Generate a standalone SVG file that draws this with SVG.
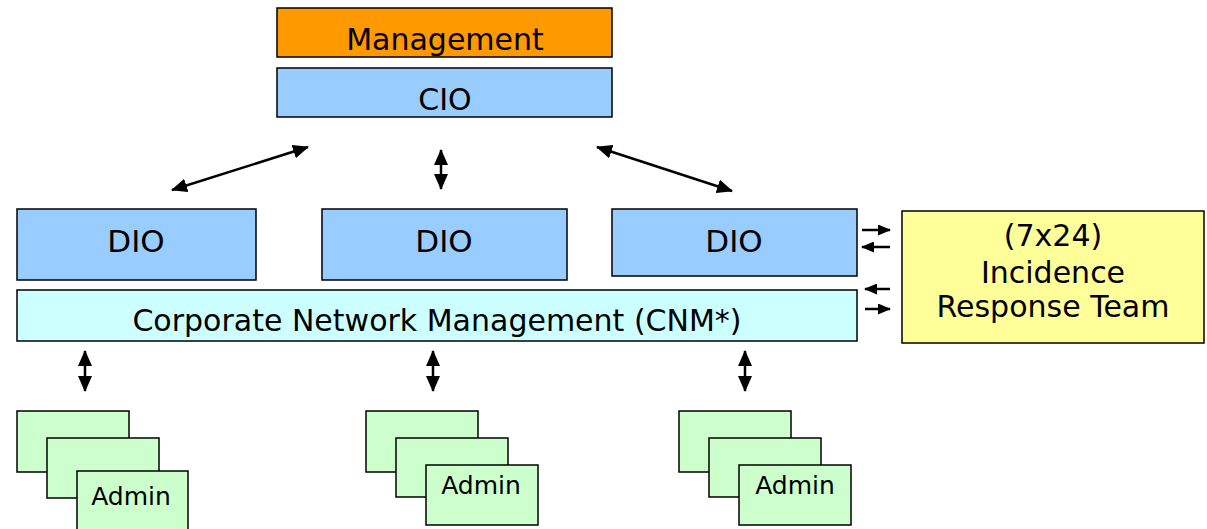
<svg xmlns="http://www.w3.org/2000/svg" width="1207" height="529" viewBox="0 0 1207 529">
  <style>
    .box { stroke: #000; stroke-width: 1.5; }
    .mgmt { fill: #FF9900; }
    .blue { fill: #99CCFF; }
    .cnm { fill: #CCFFFF; }
    .irt { fill: #FFFF99; }
    .admin { fill: #CCFFCC; }
    text { font-family: "DejaVu Sans", "Liberation Sans", sans-serif; fill: #000; text-anchor: middle; }
    .big { font-size: 30px; }
    .dio { font-size: 31px; }
    .mid { font-size: 30px; }
    .small { font-size: 25px; }
    .conn { stroke: #000; stroke-width: 2.5; fill: none; }
  </style>
  <defs>
    <marker id="head" viewBox="0 0 16 14" refX="15" refY="7" markerWidth="16" markerHeight="14" markerUnits="userSpaceOnUse" orient="auto-start-reverse">
      <path d="M0,0 L16,7 L0,14 Z" fill="#000"/>
    </marker>
    <marker id="headS" viewBox="0 0 13 11" refX="12" refY="5.5" markerWidth="13" markerHeight="11" markerUnits="userSpaceOnUse" orient="auto-start-reverse">
      <path d="M0,0 L13,5.5 L0,11 Z" fill="#000"/>
    </marker>
  </defs>

  <g id="management">
    <rect class="box mgmt" x="277" y="8" width="335" height="49"/>
    <text class="big" x="445" y="50">Management</text>
  </g>
  <g id="cio">
    <rect class="box blue" x="277" y="68" width="335" height="49"/>
    <text class="big" x="445" y="110">CIO</text>
  </g>

  <g id="dio-1">
    <rect class="box blue" x="17" y="209" width="239" height="71"/>
    <text class="dio" x="136" y="252">DIO</text>
  </g>
  <g id="dio-2">
    <rect class="box blue" x="322" y="209" width="245" height="71"/>
    <text class="dio" x="444" y="252">DIO</text>
  </g>
  <g id="dio-3">
    <rect class="box blue" x="612" y="209" width="245" height="67"/>
    <text class="dio" x="734" y="252">DIO</text>
  </g>

  <g id="cnm">
    <rect class="box cnm" x="17" y="290" width="840" height="51"/>
    <text class="mid" x="437" y="331">Corporate Network Management (CNM*)</text>
  </g>

  <g id="irt">
    <rect class="box irt" x="902" y="211" width="302" height="132"/>
    <text class="big" x="1053" y="246">(7x24)</text>
    <text class="big" x="1053" y="283">Incidence</text>
    <text class="big" x="1053" y="317">Response Team</text>
  </g>

  <g id="admin-left">
    <rect class="box admin" x="17" y="411" width="112" height="61"/>
    <rect class="box admin" x="47" y="438" width="112" height="60"/>
    <rect class="box admin" x="77" y="471" width="111" height="65"/>
    <text class="small" x="131" y="505">Admin</text>
  </g>
  <g id="admin-middle">
    <rect class="box admin" x="366" y="411" width="112" height="61"/>
    <rect class="box admin" x="396" y="438" width="112" height="59"/>
    <rect class="box admin" x="426" y="465" width="112" height="60"/>
    <text class="small" x="481" y="494">Admin</text>
  </g>
  <g id="admin-right">
    <rect class="box admin" x="679" y="411" width="112" height="61"/>
    <rect class="box admin" x="709" y="438" width="112" height="59"/>
    <rect class="box admin" x="739" y="465" width="112" height="60"/>
    <text class="small" x="795" y="494">Admin</text>
  </g>

  <g id="connectors">
    <line class="conn" x1="172" y1="190" x2="308" y2="147" marker-start="url(#head)" marker-end="url(#head)"/>
    <line class="conn" x1="441" y1="150" x2="441" y2="189" marker-start="url(#head)" marker-end="url(#head)"/>
    <line class="conn" x1="597" y1="147" x2="732" y2="191" marker-start="url(#head)" marker-end="url(#head)"/>

    <line class="conn" x1="862" y1="230" x2="890" y2="230" marker-end="url(#headS)"/>
    <line class="conn" x1="890" y1="247" x2="862" y2="247" marker-end="url(#headS)"/>
    <line class="conn" x1="890" y1="289" x2="865" y2="289" marker-end="url(#headS)"/>
    <line class="conn" x1="865" y1="309" x2="890" y2="309" marker-end="url(#headS)"/>

    <line class="conn" x1="85" y1="351" x2="85" y2="391" marker-start="url(#head)" marker-end="url(#head)"/>
    <line class="conn" x1="433" y1="351" x2="433" y2="391" marker-start="url(#head)" marker-end="url(#head)"/>
    <line class="conn" x1="745" y1="351" x2="745" y2="391" marker-start="url(#head)" marker-end="url(#head)"/>
  </g>
</svg>
